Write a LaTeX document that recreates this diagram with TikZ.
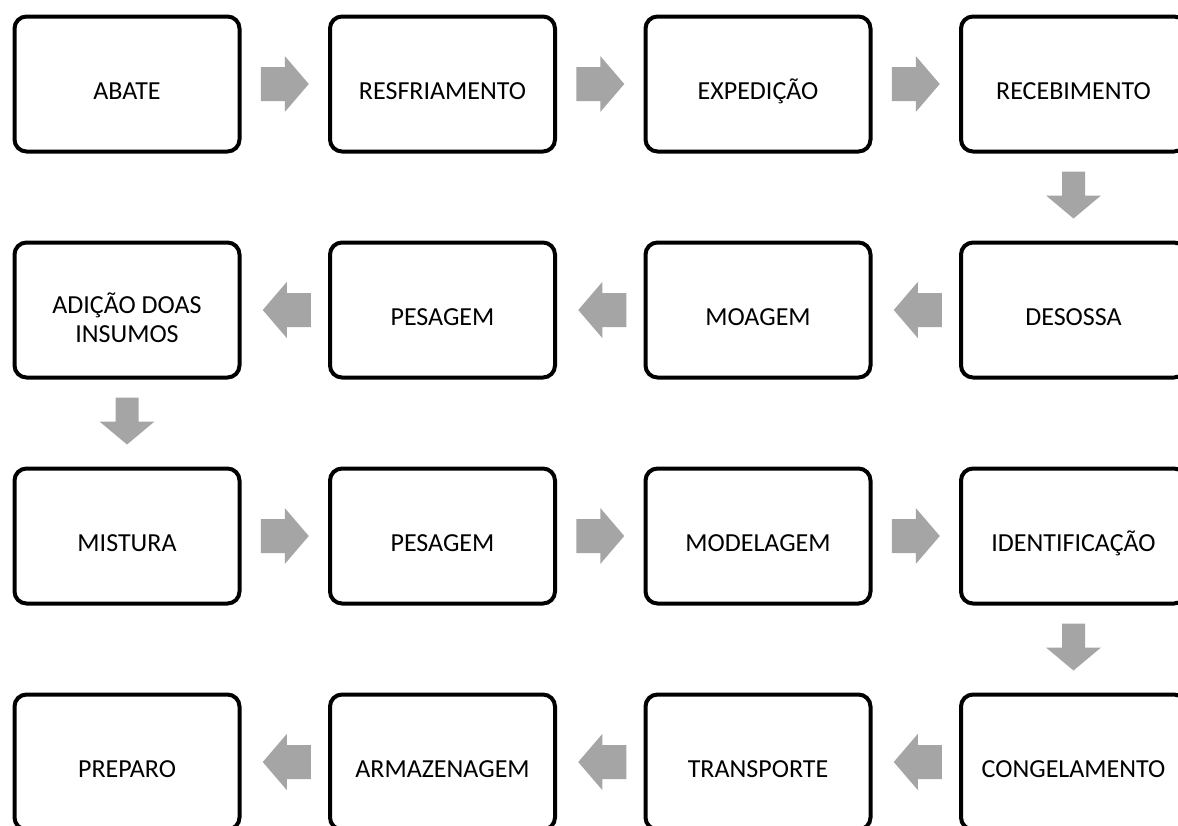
\documentclass[tikz,border=0pt]{standalone}
\usepackage{fontspec}
\setmainfont{Carlito}
\usetikzlibrary{calc}
\definecolor{flowgray}{RGB}{165,165,165}
\tikzset{
  stage/.style={draw=black, line width=4pt, rounded corners=12pt, fill=white,
    minimum width=225pt, minimum height=135pt, inner sep=0pt, align=center,
    font=\fontsize{26}{28.5}\selectfont, text height=30pt, text depth=0pt},
  % two-line label: baseline sits on the last line
  twoline/.style={text height=64pt, text depth=0pt},
  % block arrow pointing along +x, centred on its placement point
  pics/flowright/.style={code={
    \fill[flowgray] (-24,-17) -- (0,-17) -- (0,-28) -- (24,0) -- (0,28) -- (0,17) -- (-24,17) -- cycle;}},
  % block arrow pointing downwards
  pics/flowdown/.style={code={
    \fill[flowgray] (-11.5,-24) -- (11.5,-24) -- (11.5,0) -- (27.5,0) -- (0,23) -- (-27.5,0) -- (-11.5,0) -- cycle;}},
}
\begin{document}
\begin{tikzpicture}[x=1pt,y=-1pt]
\useasboundingbox (0,0) rectangle (1178,825);
\fill[white] (0,0) rectangle (1178,825);
\clip (0,0) rectangle (1178,825);

% row 1
\node[stage] (abate)        at (127,84)    {ABATE};
\node[stage] (resfriamento) at (442.5,84)  {RESFRIAMENTO};
\node[stage] (expedicao)    at (758,84)    {EXPEDIÇÃO};
\node[stage] (recebimento)  at (1073.5,84) {RECEBIMENTO};
% row 2
\node[stage] (desossa)      at (1073.5,310) {DESOSSA};
\node[stage] (moagem)       at (758,310)    {MOAGEM};
\node[stage] (pesagemA)     at (442.5,310)  {PESAGEM};
\node[stage,twoline] (adicao) at (127,310)  {ADIÇÃO DOAS\\INSUMOS};
% row 3
\node[stage] (mistura)       at (127,536)    {MISTURA};
\node[stage] (pesagemB)      at (442.5,536)  {PESAGEM};
\node[stage] (modelagem)     at (758,536)    {MODELAGEM};
\node[stage] (identificacao) at (1073.5,536) {IDENTIFICAÇÃO};
% row 4
\node[stage] (congelamento) at (1073.5,762) {CONGELAMENTO};
\node[stage] (transporte)   at (758,762)    {TRANSPORTE};
\node[stage] (armazenagem)  at (442.5,762)  {ARMAZENAGEM};
\node[stage] (preparo)      at (127,762)    {PREPARO};

% connectors
\pic at ($(abate.east)!.5!(resfriamento.west)$) {flowright};
\pic at ($(resfriamento.east)!.5!(expedicao.west)$) {flowright};
\pic at ($(expedicao.east)!.5!(recebimento.west)$) {flowright};
\pic at ($(recebimento.south)!.5!(desossa.north)+(0,-1.5)$) {flowdown};
\pic[xscale=-1] at ($(desossa.west)!.5!(moagem.east)+(2,0)$) {flowright};
\pic[xscale=-1] at ($(moagem.west)!.5!(pesagemA.east)+(2,0)$) {flowright};
\pic[xscale=-1] at ($(pesagemA.west)!.5!(adicao.east)+(2,0)$) {flowright};
\pic at ($(adicao.south)!.5!(mistura.north)+(0,-1.5)$) {flowdown};
\pic at ($(mistura.east)!.5!(pesagemB.west)$) {flowright};
\pic at ($(pesagemB.east)!.5!(modelagem.west)$) {flowright};
\pic at ($(modelagem.east)!.5!(identificacao.west)$) {flowright};
\pic at ($(identificacao.south)!.5!(congelamento.north)+(0,-1.5)$) {flowdown};
\pic[xscale=-1] at ($(congelamento.west)!.5!(transporte.east)+(2,0)$) {flowright};
\pic[xscale=-1] at ($(transporte.west)!.5!(armazenagem.east)+(2,0)$) {flowright};
\pic[xscale=-1] at ($(armazenagem.west)!.5!(preparo.east)+(2,0)$) {flowright};
\end{tikzpicture}
\end{document}
